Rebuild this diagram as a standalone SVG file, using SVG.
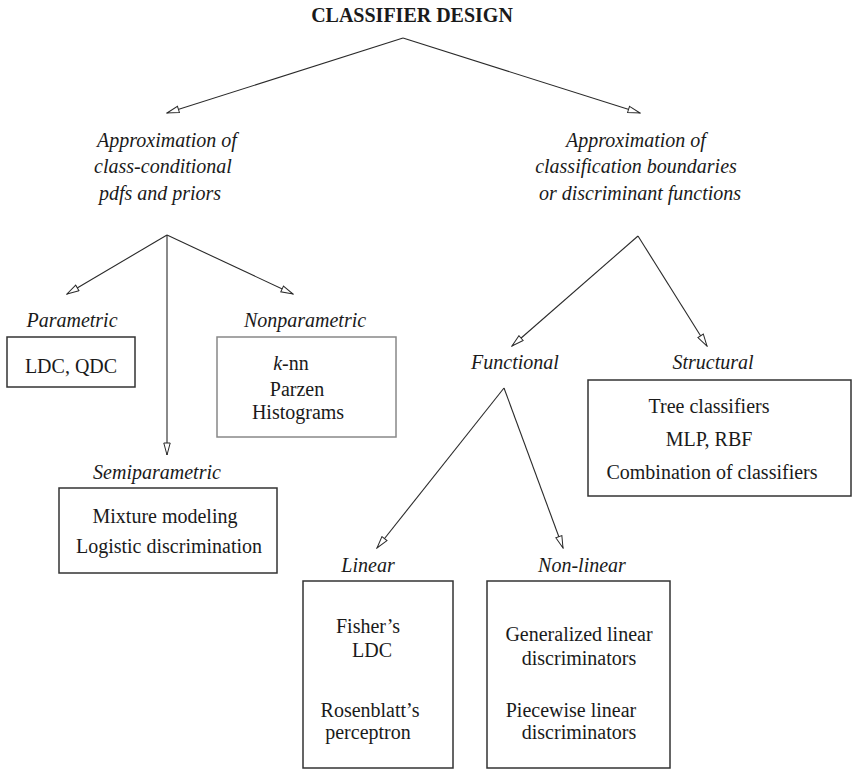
<svg xmlns="http://www.w3.org/2000/svg" width="853" height="769" viewBox="0 0 853 769">
<style>
text{font-family:"Liberation Serif","Times New Roman",serif;font-size:20px;fill:#1a1a1a}
.t{font-weight:bold}
.i{font-style:italic}
.m{text-anchor:middle}
.box{fill:none;stroke:#333;stroke-width:1.5}
.lbox{fill:none;stroke:#888;stroke-width:1.5}
.c{stroke:#2a2a2a;stroke-width:1.1;fill:none;marker-end:url(#ah)}
</style>
<defs>
<marker id="ah" markerUnits="userSpaceOnUse" markerWidth="14" markerHeight="8" refX="13" refY="4" orient="auto">
<path d="M1,0.8 L13,4 L1,7.2 Z" fill="#fff" stroke="#2a2a2a" stroke-width="1"/>
</marker>
</defs>
<rect width="853" height="769" fill="#fff"/>
<g id="connectors">
<line class="c" x1="403" y1="38" x2="167" y2="113"/>
<line class="c" x1="403" y1="38" x2="640" y2="113"/>
<line class="c" x1="167" y1="235" x2="67" y2="294"/>
<line class="c" x1="167" y1="235" x2="293" y2="294"/>
<line class="c" x1="167" y1="235" x2="167" y2="455"/>
<line class="c" x1="638" y1="236" x2="512" y2="346"/>
<line class="c" x1="638" y1="236" x2="707" y2="346"/>
<line class="c" x1="504" y1="388" x2="377" y2="548"/>
<line class="c" x1="504" y1="388" x2="563" y2="548"/>
</g>
<g id="title"><text class="t m" x="412" y="22">CLASSIFIER DESIGN</text></g>
<g id="approx-pdfs">
<text class="i m" x="167" y="147">Approximation of</text>
<text class="i m" x="163" y="173">class-conditional</text>
<text class="i m" x="160" y="200">pdfs and priors</text>
</g>
<g id="approx-boundaries">
<text class="i m" x="636" y="147">Approximation of</text>
<text class="i m" x="636" y="173">classification boundaries</text>
<text class="i m" x="640" y="200">or discriminant functions</text>
</g>
<g id="parametric">
<text class="i m" x="72" y="327">Parametric</text>
<rect class="box" x="7" y="337" width="128" height="50"/>
<text class="m" x="71" y="373">LDC, QDC</text>
</g>
<g id="nonparametric">
<text class="i m" x="305" y="327">Nonparametric</text>
<rect class="lbox" x="217" y="337" width="179" height="100"/>
<text class="m" x="291" y="370"><tspan class="i">k</tspan>-nn</text>
<text class="m" x="297" y="396">Parzen</text>
<text class="m" x="298" y="419">Histograms</text>
</g>
<g id="semiparametric">
<text class="i m" x="157" y="479">Semiparametric</text>
<rect class="box" x="59" y="488" width="218" height="85"/>
<text class="m" x="165" y="523">Mixture modeling</text>
<text class="m" x="169" y="553">Logistic discrimination</text>
</g>
<g id="functional"><text class="i m" x="515" y="369">Functional</text></g>
<g id="structural">
<text class="i m" x="713" y="369">Structural</text>
<rect class="box" x="588" y="380" width="263" height="116"/>
<text class="m" x="709" y="413">Tree classifiers</text>
<text class="m" x="709" y="446">MLP, RBF</text>
<text class="m" x="712" y="479">Combination of classifiers</text>
</g>
<g id="linear">
<text class="i m" x="368" y="572">Linear</text>
<rect class="box" x="303" y="581" width="150" height="187"/>
<text class="m" x="368" y="633">Fisher’s</text>
<text class="m" x="372" y="657">LDC</text>
<text class="m" x="370" y="717">Rosenblatt’s</text>
<text class="m" x="368" y="739">perceptron</text>
</g>
<g id="nonlinear">
<text class="i m" x="582" y="572">Non-linear</text>
<rect class="box" x="487" y="581" width="183" height="187"/>
<text class="m" x="579" y="641">Generalized linear</text>
<text class="m" x="579" y="665">discriminators</text>
<text class="m" x="571" y="717">Piecewise linear</text>
<text class="m" x="579" y="739">discriminators</text>
</g>
</svg>
